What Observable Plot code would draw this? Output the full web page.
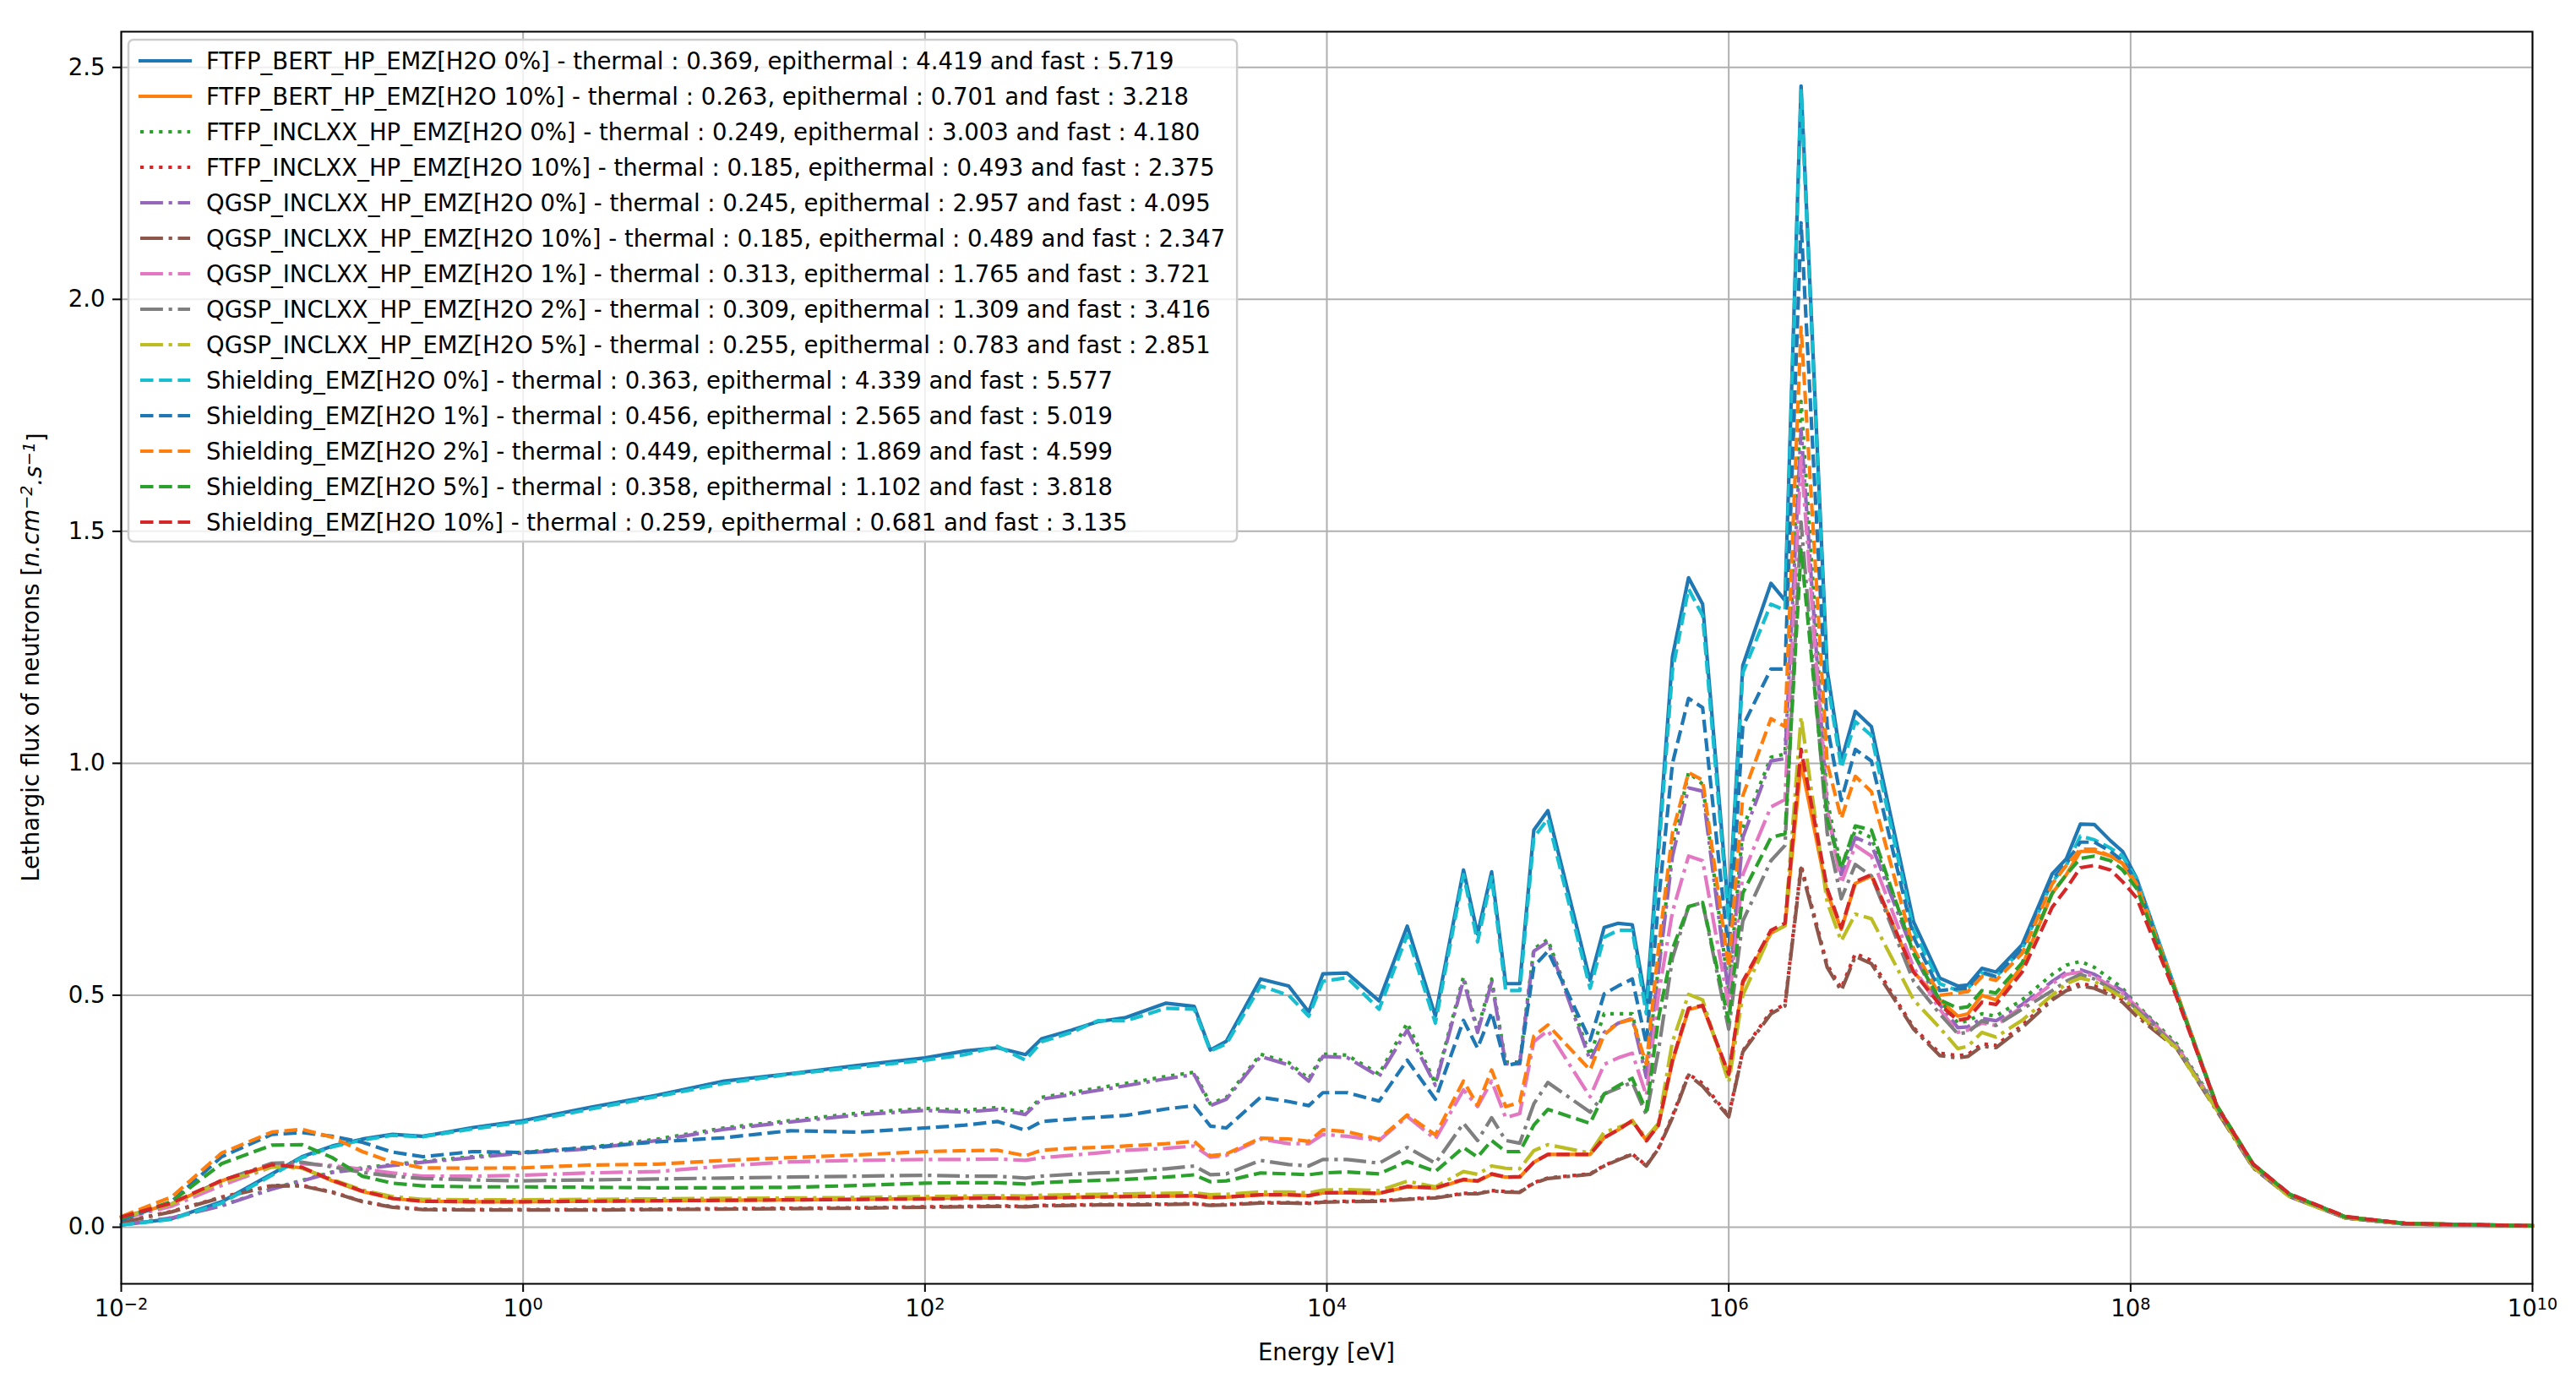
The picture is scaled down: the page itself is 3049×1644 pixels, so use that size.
<!DOCTYPE html>
<html><head><meta charset="utf-8">
<script src="https://cdn.jsdelivr.net/npm/d3@7"></script>
<script src="https://cdn.jsdelivr.net/npm/@observablehq/plot@0.6"></script>
<style>html,body{margin:0;padding:0;background:#fff;overflow:hidden}#chart{width:3049px;height:1644px}</style>
</head><body><div id="chart"></div>
<script>
// log10 of energy [eV] at each sample
const energyExp = [-2,-1.75,-1.5,-1.25,-1.1,-0.95,-0.8,-0.65,-0.5,-0.25,
0,0.33,0.67,1,1.33,1.67,2,2.2,2.36,2.5,
2.58,2.73,2.86,3,3.2,3.34,3.42,3.5,3.67,3.81,
3.91,3.98,4.1,4.26,4.4,4.54,4.68,4.75,4.82,4.89,
4.96,5.03,5.1,5.31,5.38,5.45,5.52,5.59,5.65,5.72,
5.8,5.87,6,6.07,6.21,6.28,6.36,6.49,6.56,6.63,
6.71,6.92,7.05,7.14,7.19,7.26,7.33,7.46,7.61,7.68,
7.75,7.82,7.9,7.96,8.03,8.23,8.43,8.61,8.79,9.07,
9.37,10];

const FTFP_BERT_0 = [0.005,0.018,0.055,0.115,0.152,0.175,0.19,0.2,0.196,0.215,
0.23,0.258,0.285,0.315,0.331,0.349,0.365,0.38,0.387,0.372,
0.406,0.425,0.443,0.452,0.483,0.476,0.382,0.401,0.535,0.52,
0.464,0.546,0.548,0.488,0.649,0.455,0.77,0.632,0.766,0.525,
0.525,0.856,0.898,0.532,0.646,0.655,0.652,0.48,0.82,1.23,
1.40,1.343,0.675,1.211,1.388,1.351,2.46,1.2,1.005,1.112,
1.079,0.658,0.537,0.52,0.522,0.558,0.55,0.609,0.762,0.794,
0.869,0.868,0.833,0.81,0.752,0.504,0.257,0.134,0.07,0.02,
0.007,0.003];
const FTFP_BERT_10 = [0.022,0.05,0.1,0.134,0.128,0.1,0.077,0.062,0.056,0.055,
0.055,0.056,0.057,0.058,0.059,0.06,0.062,0.063,0.063,0.062,
0.064,0.065,0.066,0.066,0.067,0.068,0.064,0.065,0.07,0.07,
0.068,0.074,0.074,0.073,0.087,0.084,0.102,0.099,0.114,0.108,
0.108,0.14,0.157,0.157,0.193,0.21,0.23,0.187,0.22,0.357,
0.469,0.477,0.328,0.526,0.634,0.65,1.0,0.72,0.642,0.741,
0.757,0.55,0.49,0.455,0.46,0.5,0.49,0.563,0.72,0.76,
0.81,0.81,0.8,0.784,0.735,0.5,0.26,0.135,0.07,0.022,
0.008,0.003];
const FTFP_INCLXX_0 = [0.005,0.02,0.047,0.083,0.101,0.119,0.128,0.135,0.142,0.152,
0.162,0.172,0.19,0.214,0.23,0.246,0.256,0.252,0.258,0.247,
0.28,0.29,0.3,0.31,0.325,0.334,0.266,0.28,0.373,0.355,
0.32,0.373,0.371,0.33,0.44,0.31,0.54,0.425,0.535,0.356,
0.356,0.6,0.62,0.37,0.46,0.46,0.46,0.33,0.56,0.82,
0.98,0.955,0.51,0.86,1.013,1.02,1.78,0.92,0.774,0.856,
0.84,0.6,0.49,0.44,0.445,0.46,0.455,0.49,0.545,0.565,
0.573,0.56,0.535,0.515,0.48,0.395,0.258,0.132,0.068,0.02,
0.007,0.003];
const FTFP_INCLXX_10 = [0.011,0.034,0.065,0.09,0.09,0.076,0.056,0.044,0.039,0.038,
0.038,0.038,0.039,0.04,0.041,0.042,0.044,0.045,0.046,0.045,
0.047,0.048,0.049,0.049,0.05,0.051,0.048,0.049,0.053,0.053,
0.052,0.055,0.056,0.057,0.061,0.064,0.073,0.073,0.079,0.077,
0.076,0.096,0.106,0.115,0.133,0.146,0.158,0.133,0.17,0.24,
0.33,0.31,0.24,0.38,0.465,0.48,0.78,0.565,0.515,0.59,
0.575,0.43,0.375,0.37,0.372,0.395,0.392,0.435,0.495,0.515,
0.525,0.52,0.505,0.49,0.46,0.39,0.255,0.13,0.067,0.02,
0.007,0.003];
const QGSP_INCLXX_0 = [0.005,0.02,0.046,0.082,0.1,0.118,0.126,0.133,0.14,0.15,
0.16,0.169,0.187,0.211,0.227,0.242,0.252,0.248,0.254,0.243,
0.276,0.286,0.295,0.305,0.32,0.329,0.262,0.276,0.368,0.35,
0.315,0.368,0.366,0.325,0.425,0.306,0.533,0.42,0.528,0.352,
0.352,0.595,0.615,0.36,0.42,0.44,0.45,0.323,0.55,0.8,
0.947,0.94,0.5,0.84,1.005,1.01,1.72,0.9,0.76,0.84,
0.825,0.59,0.48,0.43,0.432,0.45,0.445,0.48,0.53,0.55,
0.555,0.545,0.525,0.51,0.478,0.39,0.255,0.13,0.067,0.02,
0.007,0.003];
const QGSP_INCLXX_10 = [0.01,0.033,0.064,0.089,0.089,0.075,0.055,0.043,0.038,0.037,
0.037,0.037,0.038,0.039,0.04,0.041,0.043,0.044,0.045,0.044,
0.046,0.047,0.048,0.048,0.049,0.05,0.047,0.048,0.052,0.052,
0.051,0.054,0.055,0.056,0.06,0.063,0.072,0.072,0.078,0.076,
0.075,0.095,0.105,0.114,0.132,0.145,0.157,0.132,0.169,0.236,
0.328,0.304,0.238,0.378,0.46,0.477,0.774,0.56,0.51,0.584,
0.568,0.427,0.37,0.365,0.368,0.39,0.387,0.43,0.49,0.51,
0.52,0.515,0.5,0.485,0.455,0.385,0.25,0.128,0.066,0.02,
0.007,0.003];
const QGSP_INCLXX_1 = [0.018,0.045,0.09,0.13,0.137,0.133,0.125,0.117,0.11,0.11,
0.112,0.117,0.12,0.132,0.141,0.144,0.146,0.146,0.147,0.144,
0.15,0.155,0.16,0.166,0.17,0.175,0.151,0.155,0.19,0.18,
0.18,0.2,0.196,0.187,0.239,0.19,0.296,0.26,0.315,0.236,
0.245,0.4,0.424,0.281,0.351,0.365,0.375,0.284,0.5,0.68,
0.8,0.79,0.477,0.76,0.906,0.922,1.66,0.9,0.741,0.823,
0.8,0.56,0.47,0.42,0.425,0.44,0.435,0.475,0.525,0.545,
0.55,0.54,0.52,0.505,0.475,0.39,0.255,0.13,0.067,0.02,
0.007,0.003];
const QGSP_INCLXX_2 = [0.02,0.05,0.1,0.138,0.14,0.13,0.118,0.11,0.105,0.102,
0.1,0.102,0.104,0.106,0.108,0.11,0.112,0.11,0.11,0.106,
0.11,0.114,0.117,0.119,0.126,0.132,0.113,0.115,0.144,0.135,
0.132,0.146,0.146,0.138,0.172,0.138,0.224,0.187,0.236,0.187,
0.181,0.266,0.312,0.248,0.287,0.3,0.312,0.242,0.38,0.58,
0.691,0.70,0.427,0.66,0.79,0.823,1.52,0.85,0.708,0.782,
0.757,0.53,0.46,0.417,0.42,0.445,0.435,0.47,0.51,0.53,
0.545,0.535,0.515,0.5,0.47,0.388,0.254,0.13,0.067,0.02,
0.007,0.003];
const QGSP_INCLXX_5 = [0.02,0.05,0.097,0.13,0.127,0.103,0.08,0.066,0.06,0.059,
0.059,0.06,0.061,0.062,0.063,0.064,0.066,0.067,0.068,0.067,
0.069,0.07,0.071,0.072,0.073,0.074,0.07,0.071,0.076,0.076,
0.074,0.08,0.081,0.079,0.099,0.087,0.12,0.114,0.132,0.127,
0.126,0.165,0.178,0.16,0.205,0.215,0.227,0.193,0.224,0.4,
0.502,0.49,0.312,0.5,0.634,0.65,1.1,0.7,0.617,0.675,
0.665,0.49,0.43,0.385,0.39,0.42,0.41,0.446,0.5,0.525,
0.537,0.53,0.51,0.495,0.465,0.385,0.252,0.13,0.066,0.02,
0.007,0.003];
const Shielding_0 = [0.005,0.017,0.052,0.112,0.15,0.173,0.188,0.198,0.195,0.212,
0.226,0.254,0.282,0.31,0.33,0.345,0.36,0.372,0.39,0.36,
0.4,0.42,0.445,0.445,0.472,0.47,0.38,0.395,0.52,0.5,
0.455,0.53,0.538,0.47,0.63,0.44,0.76,0.615,0.755,0.51,
0.51,0.84,0.88,0.515,0.625,0.64,0.64,0.46,0.8,1.2,
1.376,1.318,0.66,1.195,1.343,1.33,2.45,1.18,0.99,1.09,
1.06,0.64,0.525,0.51,0.515,0.548,0.54,0.6,0.745,0.78,
0.843,0.835,0.817,0.8,0.75,0.505,0.26,0.136,0.072,0.022,
0.008,0.003];
const Shielding_1 = [0.015,0.055,0.152,0.2,0.204,0.196,0.183,0.162,0.152,0.163,
0.161,0.172,0.184,0.193,0.208,0.205,0.214,0.22,0.228,0.209,
0.228,0.233,0.237,0.241,0.255,0.262,0.218,0.214,0.28,0.271,
0.262,0.29,0.29,0.272,0.36,0.276,0.446,0.386,0.463,0.348,
0.355,0.562,0.595,0.403,0.503,0.52,0.535,0.395,0.7,1.0,
1.14,1.12,0.59,1.08,1.203,1.203,2.165,1.08,0.92,1.03,
1.005,0.625,0.51,0.514,0.515,0.55,0.54,0.6,0.75,0.785,
0.83,0.83,0.81,0.79,0.745,0.5,0.26,0.135,0.071,0.022,
0.008,0.003];
const Shielding_2 = [0.023,0.065,0.16,0.205,0.211,0.194,0.163,0.14,0.128,0.127,
0.128,0.134,0.136,0.144,0.15,0.156,0.163,0.165,0.166,0.154,
0.166,0.17,0.172,0.175,0.18,0.185,0.154,0.158,0.192,0.19,
0.185,0.21,0.206,0.19,0.242,0.199,0.315,0.263,0.339,0.26,
0.269,0.412,0.436,0.339,0.415,0.44,0.448,0.351,0.6,0.85,
0.98,0.964,0.56,0.93,1.096,1.079,1.94,1.0,0.881,0.972,
0.939,0.6,0.5,0.505,0.508,0.54,0.532,0.59,0.74,0.78,
0.815,0.815,0.8,0.785,0.74,0.505,0.262,0.136,0.071,0.022,
0.008,0.003];
const Shielding_5 = [0.019,0.055,0.137,0.177,0.178,0.15,0.11,0.095,0.089,0.087,
0.087,0.086,0.085,0.085,0.086,0.09,0.095,0.096,0.096,0.093,
0.096,0.099,0.101,0.103,0.108,0.113,0.098,0.1,0.117,0.115,
0.113,0.117,0.119,0.115,0.142,0.12,0.172,0.151,0.187,0.163,
0.163,0.22,0.254,0.224,0.287,0.305,0.321,0.251,0.45,0.6,
0.691,0.70,0.444,0.72,0.84,0.848,1.46,0.88,0.774,0.865,
0.856,0.59,0.49,0.472,0.475,0.51,0.505,0.57,0.72,0.76,
0.795,0.8,0.79,0.77,0.73,0.5,0.262,0.136,0.071,0.022,
0.008,0.003];
const Shielding_10 = [0.022,0.052,0.101,0.135,0.129,0.101,0.078,0.062,0.056,0.055,
0.055,0.056,0.057,0.058,0.059,0.06,0.061,0.062,0.063,0.062,
0.063,0.064,0.065,0.066,0.067,0.068,0.064,0.065,0.07,0.07,
0.068,0.074,0.075,0.073,0.088,0.085,0.103,0.1,0.115,0.108,
0.109,0.14,0.157,0.157,0.193,0.21,0.23,0.186,0.22,0.36,
0.472,0.478,0.33,0.53,0.64,0.655,1.03,0.73,0.645,0.745,
0.76,0.55,0.48,0.446,0.45,0.485,0.48,0.55,0.69,0.73,
0.775,0.78,0.77,0.745,0.71,0.495,0.26,0.136,0.072,0.023,
0.008,0.003];

const seriesLabels = [
"FTFP_BERT_HP_EMZ[H2O 0%] - thermal : 0.369, epithermal : 4.419 and fast : 5.719",
"FTFP_BERT_HP_EMZ[H2O 10%] - thermal : 0.263, epithermal : 0.701 and fast : 3.218",
"FTFP_INCLXX_HP_EMZ[H2O 0%] - thermal : 0.249, epithermal : 3.003 and fast : 4.180",
"FTFP_INCLXX_HP_EMZ[H2O 10%] - thermal : 0.185, epithermal : 0.493 and fast : 2.375",
"QGSP_INCLXX_HP_EMZ[H2O 0%] - thermal : 0.245, epithermal : 2.957 and fast : 4.095",
"QGSP_INCLXX_HP_EMZ[H2O 10%] - thermal : 0.185, epithermal : 0.489 and fast : 2.347",
"QGSP_INCLXX_HP_EMZ[H2O 1%] - thermal : 0.313, epithermal : 1.765 and fast : 3.721",
"QGSP_INCLXX_HP_EMZ[H2O 2%] - thermal : 0.309, epithermal : 1.309 and fast : 3.416",
"QGSP_INCLXX_HP_EMZ[H2O 5%] - thermal : 0.255, epithermal : 0.783 and fast : 2.851",
"Shielding_EMZ[H2O 0%] - thermal : 0.363, epithermal : 4.339 and fast : 5.577",
"Shielding_EMZ[H2O 1%] - thermal : 0.456, epithermal : 2.565 and fast : 5.019",
"Shielding_EMZ[H2O 2%] - thermal : 0.449, epithermal : 1.869 and fast : 4.599",
"Shielding_EMZ[H2O 5%] - thermal : 0.358, epithermal : 1.102 and fast : 3.818",
"Shielding_EMZ[H2O 10%] - thermal : 0.259, epithermal : 0.681 and fast : 3.135"];
const seriesValues = [FTFP_BERT_0, FTFP_BERT_10, FTFP_INCLXX_0, FTFP_INCLXX_10,
  QGSP_INCLXX_0, QGSP_INCLXX_10, QGSP_INCLXX_1, QGSP_INCLXX_2, QGSP_INCLXX_5,
  Shielding_0, Shielding_1, Shielding_2, Shielding_5, Shielding_10];
const xTicks = [1e-2, 1e0, 1e2, 1e4, 1e6, 1e8, 1e10];
const yTicks = [0, 0.5, 1.0, 1.5, 2.0, 2.5];

// styles
const colors = ["#1f77b4","#ff7f0e","#2ca02c","#d62728","#9467bd","#8c564b","#e377c2","#7f7f7f","#bcbd22","#17becf","#1f77b4","#ff7f0e","#2ca02c","#d62728"];
const LW = 4.2;
const DASH = {solid: null, dotted: "4.2,6.9", dashdot: "26.9,6.7,4.2,6.7", dashed: "15.5,6.7"};
const styles = ["solid","solid","dotted","dotted","dashdot","dashdot","dashdot","dashdot","dashdot","dashed","dashed","dashed","dashed","dashed"];

const W = 3049, H = 1644;
const rows = [];
seriesValues.forEach((vals, s) => vals.forEach((v, j) => rows.push({s, E: Math.pow(10, energyExp[j]), v})));

const lineMarks = seriesValues.map((_, s) => Plot.line(rows.filter(r => r.s === s), {
  x: "E", y: "v", stroke: colors[s], strokeWidth: LW,
  strokeDasharray: DASH[styles[s]] || undefined,
  strokeLinecap: styles[s] === "solid" ? "square" : "butt",
  strokeLinejoin: "round", curve: "linear"
}));

const chart = Plot.plot({
  width: W, height: H,
  marginLeft: 143, marginRight: 52, marginTop: 37, marginBottom: 125,
  x: {type: "log", domain: [1e-2, 1e10]},
  y: {domain: [-0.122, 2.577]},
  style: {fontFamily: "DejaVu Sans", fontSize: "27px", background: "white", color: "black"},
  marks: [
    Plot.gridX(xTicks, {stroke: "#b0b0b0", strokeOpacity: 1, strokeWidth: 2}),
    Plot.gridY(yTicks, {stroke: "#b0b0b0", strokeOpacity: 1, strokeWidth: 2}),
    ...lineMarks,
    Plot.axisX(xTicks, {tickSize: 10, tickPadding: 9, strokeWidth: 2, fontSize: 27.5, label: null,
      tickFormat: d => "10^" + Math.round(Math.log10(d))}),
    Plot.axisY(yTicks, {tickSize: 10, tickPadding: 9, strokeWidth: 2, fontSize: 27.5, label: null,
      tickFormat: d => d.toFixed(1)}),
    Plot.frame({stroke: "black", strokeWidth: 2})
  ]
});
document.getElementById("chart").appendChild(chart);

const svg = d3.select(chart.tagName.toLowerCase() === "svg" ? chart : chart.querySelector("svg"));

// superscript exponents on x tick labels
svg.selectAll('g[aria-label="x-axis tick label"] text').each(function() {
  const m = this.textContent.match(/^10\^(-?\d+)$/);
  if (!m) return;
  const el = d3.select(this);
  el.text("10");
  el.append("tspan").attr("dy", "-0.42em").attr("font-size", "0.7em").text(m[1].replace("-", "\u2212"));
});

// axis labels
const ylab = svg.append("text").attr("transform", "translate(46,778) rotate(-90)")
  .attr("text-anchor", "middle").attr("font-family", "DejaVu Sans").attr("font-size", 27.5).attr("fill", "black");
ylab.append("tspan").text("Lethargic flux of neutrons [");
ylab.append("tspan").attr("font-style", "italic").text("n.cm");
ylab.append("tspan").attr("font-style", "italic").attr("dy", "-0.42em").attr("font-size", "0.7em").text("\u22122");
ylab.append("tspan").attr("font-style", "italic").attr("dy", "0.42em").text(".s");
ylab.append("tspan").attr("font-style", "italic").attr("dy", "-0.42em").attr("font-size", "0.7em").text("\u22121");
ylab.append("tspan").attr("dy", "0.42em").text("]");

svg.append("text").attr("x", 1570).attr("y", 1610).attr("text-anchor", "middle")
  .attr("font-family", "DejaVu Sans").attr("font-size", 27.5).attr("fill", "black").text("Energy [eV]");

// legend
const lg = svg.append("g").attr("text-anchor", "start");
const box = lg.append("rect").attr("x", 152).attr("y", 47).attr("rx", 6).attr("ry", 6)
  .attr("fill", "white").attr("fill-opacity", 0.8).attr("stroke", "#cccccc").attr("stroke-width", 2.5);
let maxW = 0;
seriesLabels.forEach((lab, i) => {
  const cy = 72 + 42 * i;
  lg.append("line").attr("x1", 166).attr("x2", 225).attr("y1", cy).attr("y2", cy)
    .attr("stroke", colors[i]).attr("stroke-width", LW)
    .attr("stroke-dasharray", DASH[styles[i]] || null)
    .attr("stroke-linecap", styles[i] === "solid" ? "square" : "butt");
  const t = lg.append("text").attr("x", 244).attr("y", cy + 10).attr("text-anchor", "start")
    .attr("font-family", "DejaVu Sans").attr("font-size", 27.5).attr("fill", "black").text(lab);
  maxW = Math.max(maxW, t.node().getComputedTextLength());
});
box.attr("width", 244 - 152 + maxW + 14).attr("height", 594);
</script></body></html>
